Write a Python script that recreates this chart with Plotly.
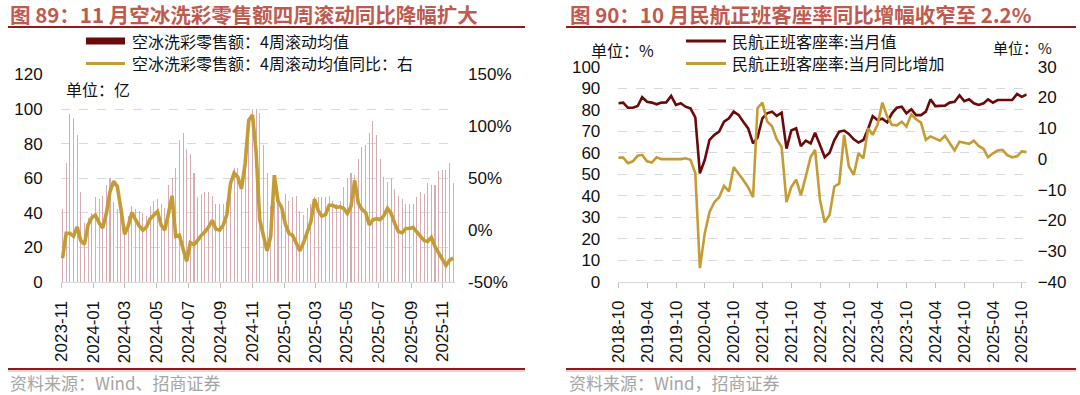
import plotly.graph_objects as go
import pandas as pd

W, H = 1080, 395

# ---------------- Left chart: 空冰洗彩零售额 (weekly) ----------------
left_start = "2023-11-03"
retail_4w_avg = [42, 69, 97, 95, 85, 52, 34, 37, 40, 49,
                 48, 50, 56, 60, 46, 42, 38, 28, 38, 44,
                 42, 41, 40, 38, 44, 47, 48, 45, 43, 56,
                 60, 66, 82, 86, 77, 74, 63, 49, 51, 52,
                 52, 50, 45, 45, 45, 46, 57, 66, 66, 60,
                 65, 95, 100, 100, 98, 79, 63, 44, 46, 47,
                 45, 51, 47, 49, 50, 41, 39, 43, 45, 49,
                 49, 49, 49, 50, 47, 45, 47, 55, 60, 63,
                 62, 71, 78, 79, 86, 93, 85, 71, 61, 58,
                 60, 54, 50, 48, 45, 45, 45, 49, 52, 51,
                 57, 56, 56, 64, 65, 65, 69, 57]
retail_4w_yoy = [-27, -3, -3, -6, 3, -10, -13.5, 5, 12, 14.5,
                 7, 2, 16, 37, 47, 42, 20, -4, 4, 17,
                 10, 4, 0, 3, 11, 14, 18, 5, 0, 16,
                 33, -6, -5, -18, -30, -12, -14, -10, -5, -1.6,
                 3, 9.5, 1, 0, 5, 15, 45, 55, 51, 40,
                 64, 106, 111, 76, 10, -5, -20, -6, 53, 28,
                 22, 6, -3, -5, -12, -20, -12, -2, 8, 30,
                 19, 13.5, 15, 24, 24, 22, 22.5, 21, 16, 23,
                 48, 26, 20, 17, 5, 10, 11, 10, 14, 21,
                 16, 6, -1.6, -2.6, 1.6, 1.6, 2.6, -1.6, -6, -10,
                 -11, -7, -16, -22, -28, -34, -29, -27]
left_ticks_left = [0, 20, 40, 60, 80, 100, 120]
left_ticks_right = [-50, 0, 50, 100, 150]
left_ticks_right_text = ["-50%", "0%", "50%", "100%", "150%"]

# ---------------- Right chart: 民航正班客座率 (monthly) ----------------
air_start = "2018-09-01"
load_factor = [83.0, 83.3, 80.9, 80.9, 81.7, 85.8, 83.7, 83.3, 82.5, 83.3,
               83.4, 86.4, 82.2, 83.0, 81.4, 80.6, 76.4, 50.4, 56.7, 66.0,
               68.3, 69.8, 74.4, 76.0, 79.1, 77.6, 74.4, 71.3, 64.3, 67.0,
               76.0, 78.3, 79.1, 77.1, 78.6, 61.9, 70.3, 71.3, 63.1, 65.6,
               64.3, 69.3, 63.6, 57.9, 60.0, 65.9, 69.8, 70.3, 68.7, 66.2,
               64.7, 65.9, 71.3, 77.0, 75.2, 75.8, 74.1, 78.3, 80.9, 81.4,
               78.3, 80.2, 77.5, 77.5, 79.1, 84.8, 81.7, 81.9, 81.9, 83.3,
               83.7, 86.7, 84.0, 84.9, 83.0, 82.2, 83.0, 84.8, 83.3, 84.5,
               84.5, 84.5, 84.5, 87.3, 86.0, 87.1]
load_factor_yoy = [0.4, 0.4, -1.4, -0.8, 1.0, 1.3, -0.8, -1.2, 0.5, -0.1,
                   -0.1, -0.1, -0.3, -0.1, 0.2, -0.3, -4.6, -35.6, -24.2, -17.3,
                   -14.1, -12.5, -8.8, -10.6, -2.7, -4.7, -6.9, -9.3, -12.5, 16.5,
                   18.3, 12.2, 10.6, 6.4, 3.8, -14.1, -9.2, -6.8, -11.8, -5.8,
                   0.7, 2.9, -13.3, -20.7, -18.2, -9.0, -8.1, 7.8, -2.5, -5.2,
                   1.8, 0.2, 10.0, 7.8, 11.1, 18.3, 13.8, 11.1, 10.9, 12.1,
                   10.5, 14.5, 12.9, 11.8, 6.2, 7.3, 6.5, 5.9, 7.5, 5.1,
                   2.7, 5.6, 5.3, 4.9, 5.9, 4.2, 3.2, 0.5, 1.8, 2.7,
                   2.9, 1.2, 0.5, 0.8, 2.4, 2.2]

# ---------------- Colours / fonts ----------------
DARK_RED = "#6B0A0A"
GOLD = "#C59B35"
BAR_PINK = "#D5ACB1"
GRID = "#D9D9D9"
TITLE_RED = "#BE5A4E"
RULE_RED = "#8E1B1B"
SRC_GRAY = "#A5A5A5"
NUM_FONT = "Liberation Sans, Arial, Noto Sans CJK SC, sans-serif"
CJK_FONT = "Noto Sans CJK SC, Liberation Sans, sans-serif"


def px_x(p):
    return p / W


def px_y(p):
    return 1 - p / H


left_dates = pd.date_range(left_start, periods=len(retail_4w_avg), freq="7D")
air_dates = pd.date_range(air_start, periods=len(load_factor), freq="MS") + pd.offsets.MonthEnd(0)

fig = go.Figure()

# Left chart traces
fig.add_trace(go.Bar(x=left_dates, y=retail_4w_avg, marker=dict(color=BAR_PINK, line=dict(width=0)),
                     width=2.0 * 86400000, xaxis="x", yaxis="y", hoverinfo="skip"))
fig.add_trace(go.Scatter(x=left_dates, y=retail_4w_yoy, mode="lines",
                         line=dict(color=GOLD, width=3.6), xaxis="x", yaxis="y2"))

# Right chart traces
fig.add_trace(go.Scatter(x=air_dates, y=load_factor, mode="lines",
                         line=dict(color=DARK_RED, width=2.6), xaxis="x3", yaxis="y3"))
fig.add_trace(go.Scatter(x=air_dates, y=load_factor_yoy, mode="lines",
                         line=dict(color=GOLD, width=2.6), xaxis="x3", yaxis="y4"))

tick_font = dict(family=NUM_FONT, size=17, color="#111111")

left_x0 = left_dates[0] - pd.Timedelta(days=3.5)
left_x1 = left_dates[-1] + pd.Timedelta(days=3.5)

L_DOM_X = [px_x(60.7), px_x(455.1)]
L_DOM_Y = [px_y(282), px_y(74.5)]
R_DOM_X = [px_x(618.3), px_x(1026.7)]
R_DOM_Y = [px_y(281.7), px_y(66.7)]

xcommon = dict(type="date", showgrid=False, showline=True, linecolor=GRID, linewidth=1,
               ticks="outside", ticklen=5, tickcolor="#BFBFBF", tickwidth=1,
               tickangle=-90, tickformat="%Y-%m", tickfont=tick_font, ticklabelstandoff=6,
               zeroline=False, fixedrange=True, automargin=False)

ycommon = dict(zeroline=False, showline=False, ticks="", tickfont=tick_font,
               automargin=False, fixedrange=True)

fig.update_layout(
    template="none",
    width=W, height=H, margin=dict(l=0, r=0, t=0, b=0, pad=0, autoexpand=False),
    font=dict(family=NUM_FONT, size=17, color="#111111"),
    paper_bgcolor="white", plot_bgcolor="white", showlegend=False, bargap=0,
    xaxis=dict(xcommon, domain=L_DOM_X, anchor="y", range=[left_x0, left_x1],
               dtick="M2", tick0="2023-11-01"),
    yaxis=dict(ycommon, domain=L_DOM_Y, anchor="x", range=[0, 120], tickvals=left_ticks_left,
               showgrid=True, gridcolor=GRID, griddash="dash", gridwidth=1,
               ticklabelstandoff=17),
    yaxis2=dict(ycommon, overlaying="y", side="right", anchor="x", range=[-50, 150],
                tickvals=left_ticks_right, ticktext=left_ticks_right_text, showgrid=False,
                ticklabelstandoff=12),
    xaxis3=dict(xcommon, domain=R_DOM_X, anchor="y3",
                range=[air_dates[0], air_dates[-1]], dtick="M6", tick0="2018-10-01"),
    yaxis3=dict(ycommon, domain=R_DOM_Y, anchor="x3", range=[0, 100], dtick=10, tick0=0,
                showgrid=True, gridcolor=GRID, griddash="dash", gridwidth=1,
                ticklabelstandoff=17),
    yaxis4=dict(ycommon, overlaying="y3", side="right", anchor="x3", range=[-40, 30], dtick=10,
                tick0=0, showgrid=False, ticklabelstandoff=10),
)

shapes = []
annotations = []


def hline(x0, x1, y, color, width):
    shapes.append(dict(type="line", xref="paper", yref="paper", x0=px_x(x0), x1=px_x(x1),
                       y0=px_y(y), y1=px_y(y), line=dict(color=color, width=width)))


def text(x, y, s, size=17, color="#111111", family=CJK_FONT, xanchor="left"):
    annotations.append(dict(xref="paper", yref="paper", x=px_x(x), y=px_y(y), text=s,
                            showarrow=False, xanchor=xanchor, yanchor="middle",
                            font=dict(family=family, size=size, color=color)))


# Titles + rules
text(8, 14.5, "<b>图 89：11 月空冰洗彩零售额四周滚动同比降幅扩大</b>", size=20.5, color=TITLE_RED)
text(568, 14.5, "<b>图 90：10 月民航正班客座率同比增幅收窄至 2.2%</b>", size=20.5, color=TITLE_RED)
hline(8, 525, 27, RULE_RED, 2)
hline(566, 1076, 27, RULE_RED, 2)
hline(8, 525, 369, RULE_RED, 2)
hline(8, 525, 371, "#D8A6A6", 1)
hline(566, 1076, 369, RULE_RED, 2)
hline(566, 1076, 371, "#D8A6A6", 1)

# Sources
text(8, 382, "资料来源：Wind、招商证券", size=17, color=SRC_GRAY)
text(567, 382, "资料来源：Wind，招商证券", size=17, color=SRC_GRAY)

# Left legend (drawn manually)
shapes.append(dict(type="rect", xref="paper", yref="paper", x0=px_x(86), x1=px_x(125),
                   y0=px_y(44.5), y1=px_y(37.5), fillcolor=DARK_RED, line=dict(width=0)))
hline(86, 125, 63.5, GOLD, 3)
text(130, 41, "空冰洗彩零售额：4周滚动均值", size=16)
text(130, 63.5, "空冰洗彩零售额：4周滚动均值同比：右", size=16)
text(64, 89, "单位：亿", size=16)

# Right legend
hline(686, 726, 41, DARK_RED, 3)
hline(686, 726, 63.5, GOLD, 3)
text(730, 41, "民航正班客座率:当月值", size=16)
text(730, 63.5, "民航正班客座率:当月同比增加", size=16)
text(589, 50, "单位：%", size=16)
text(991, 48, "单位：%", size=15)

fig.update_layout(shapes=shapes, annotations=annotations)

fig.write_html("out.html", config={"displayModeBar": False, "staticPlot": True},
               post_script="document.body.style.margin='0px';document.body.style.padding='0px';")
